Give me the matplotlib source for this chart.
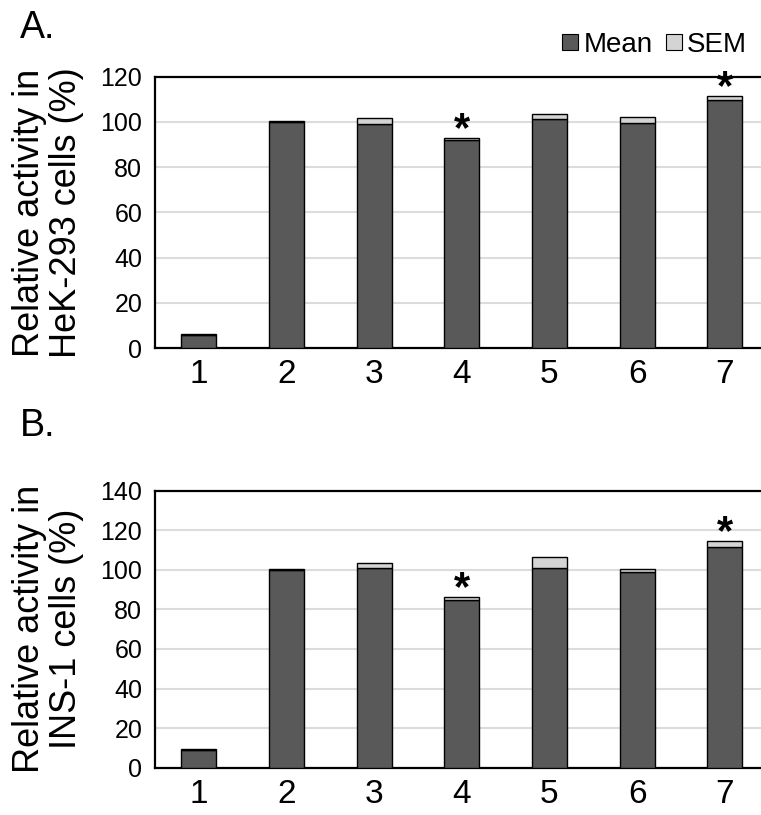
import numpy as np
import matplotlib
matplotlib.use('Agg')
import matplotlib.pyplot as plt
from matplotlib.patches import Patch

plt.rcParams['font.family'] = ['Liberation Sans', 'DejaVu Sans']

# 数据
groups = ['1', '2', '3', '4', '5', '6', '7']
hek_mean = [6.0, 100.0, 99.2, 92.0, 101.3, 99.3, 109.7]
hek_sem = [0.5, 0.3, 2.7, 1.0, 2.3, 3.0, 1.7]
hek_star = [4, 7]
ins_mean = [9.0, 100.0, 100.9, 84.8, 100.7, 99.0, 111.7]
ins_sem = [0.5, 0.3, 2.4, 1.6, 5.6, 1.2, 3.0]
ins_star = [4, 7]

mean_color = '#595959'
sem_color = '#d4d4d4'


def draw_panel(ax, mean, sem, stars, ymax, ystep, ylabel):
    x = np.arange(len(groups))
    ax.bar(x, mean, width=0.4, color=mean_color, edgecolor='black', linewidth=1.0, zorder=3)
    ax.bar(x, sem, width=0.4, bottom=mean, color=sem_color, edgecolor='black', linewidth=1.0, zorder=3)
    # 星号标记显著性
    for s in stars:
        i = s - 1
        ax.annotate('*', xy=(x[i], mean[i] + sem[i]), xytext=(0, -2.5),
                    textcoords='offset points', ha='center', va='baseline',
                    fontsize=30, fontweight='bold', zorder=4, annotation_clip=False)
    ax.set_xlim(-0.5, len(groups) - 0.5)
    ax.set_ylim(0, ymax)
    ax.set_yticks(np.arange(0, ymax + 1, ystep))
    ax.set_xticks(x)
    ax.set_xticklabels(groups)
    ax.tick_params(axis='x', length=0, labelsize=24, pad=8)
    ax.tick_params(axis='y', length=0, labelsize=18, pad=9)
    ax.yaxis.grid(True, color='#dcdcdc', linewidth=1.5, zorder=0)
    ax.set_axisbelow(True)
    for sp in ax.spines.values():
        sp.set_linewidth(1.6)
        sp.set_color('black')
    ax.set_ylabel(ylabel, fontsize=26, linespacing=1.1)


fig = plt.figure(figsize=(7.61, 8.15), dpi=100)
ax_a = fig.add_axes([0.2035, 0.5727, 0.8066, 0.3333])
ax_b = fig.add_axes([0.2035, 0.0580, 0.8066, 0.3400])

draw_panel(ax_a, hek_mean, hek_sem, hek_star, 120, 20, 'Relative activity in\nHeK-293 cells (%)')
draw_panel(ax_b, ins_mean, ins_sem, ins_star, 140, 20, 'Relative activity in\nINS-1 cells (%)')
ax_a.yaxis.set_label_coords(-0.115, 0.5)
ax_b.yaxis.set_label_coords(-0.115, 0.5)

fig.text(0.026, 0.988, 'A.', fontsize=27, va='top', ha='left')
fig.text(0.026, 0.500, 'B.', fontsize=27, va='top', ha='left')

handles = [Patch(facecolor=mean_color, edgecolor='black', linewidth=0.8, label='Mean'),
           Patch(facecolor=sem_color, edgecolor='black', linewidth=0.8, label='SEM')]
fig.legend(handles=handles, loc='center right', bbox_to_anchor=(1.0, 0.945), ncol=2,
           frameon=False, fontsize=20, handlelength=0.55, handleheight=0.55,
           handletextpad=0.2, columnspacing=0.5, borderaxespad=0.1)

fig.savefig('out.png', dpi=100)
